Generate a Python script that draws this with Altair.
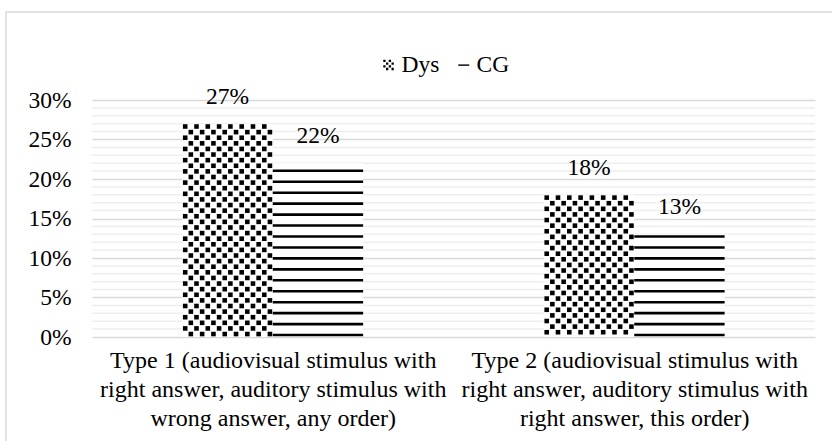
import json
import altair as alt
import pandas as pd

# ---- data ----
groups = [
    "Type 1 (audiovisual stimulus with|right answer, auditory stimulus with|wrong answer, any order)",
    "Type 2 (audiovisual stimulus with|right answer, auditory stimulus with|right answer, this order)",
]
series = ["Dys", "CG"]
dys_values = [0.27, 0.18]
cg_values = [0.22, 0.13]
y_ticks = [0, 0.05, 0.10, 0.15, 0.20, 0.25, 0.30]

rows = []
for gi, g in enumerate(groups):
    rows.append({"gi": gi, "group": g, "series": "Dys", "si": 0, "value": dys_values[gi]})
    rows.append({"gi": gi, "group": g, "series": "CG", "si": 1, "value": cg_values[gi]})
df = pd.DataFrame(rows)

FONT = "Liberation Serif"
FS = 23.5
FSX = 24

base = alt.Chart(df).transform_calculate(
    x0="datum.gi + 0.25 + datum.si * 0.25",
    x1="datum.gi + 0.5 + datum.si * 0.25",
    xc="datum.gi + 0.375 + datum.si * 0.25",
)

label_expr = "split(" + json.dumps(groups) + "[floor(datum.value)], '|')"

xscale = alt.Scale(domain=[0, len(groups)], nice=False, zero=False)
yscale = alt.Scale(domain=[0, 0.30], nice=False)

x_axis = alt.Axis(
    values=[0.5 + i for i in range(len(groups))],
    labelExpr=label_expr,
    title=None, ticks=False, domain=False, grid=False,
    labelFont=FONT, labelFontSize=FSX, labelColor="#000000",
    labelPadding=11, labelLineHeight=29, labelAlign="center", labelLimit=0,
)
y_axis = alt.Axis(
    values=y_ticks, format=".0%", title=None, ticks=False, domain=False,
    labelFont=FONT, labelFontSize=FS, labelColor="#000000", labelPadding=21,
    grid=True, gridColor="#d9d9d9", gridWidth=1.5,
)


def X(field):
    return alt.X(field, scale=xscale, axis=x_axis)


def Y(field):
    return alt.Y(field, scale=yscale, axis=y_axis)


# minor gridlines every 1%
minor = alt.Chart(alt.sequence(1, 30, 1, as_="k")).transform_filter(
    "datum.k % 5 != 0"
).transform_calculate(g="datum.k / 100").mark_rule(
    color="#eeeeee", strokeWidth=1.5
).encode(y=Y("g:Q"))

# white bar bodies
bars = base.mark_rect(fill="white").encode(
    x=X("x0:Q"),
    x2="x1:Q",
    y=Y("value:Q"),
    y2=alt.datum(0),
)

# dotted texture for Dys
NC = 16
RP = 0.0071
dots = base.transform_filter("datum.series == 'Dys'").transform_calculate(
    cs=f"sequence(0, {NC})",
    rs=f"sequence(0, ceil(datum.value / {RP}))",
).transform_flatten(["cs"], as_=["c"]).transform_flatten(["rs"], as_=["r"]).transform_filter(
    "(datum.c + datum.r) % 2 == 0"
).transform_calculate(
    px=f"datum.x0 + (datum.c + 0.5) * {0.25 / NC}",
    py=f"datum.value - (datum.r + 0.5) * {RP}",
).transform_filter("datum.py > 0.0028").mark_square(
    size=21, filled=True, color="black", opacity=1
).encode(x=X("px:Q"), y=Y("py:Q"))

# horizontal stripes for CG
stripes = base.transform_filter("datum.series == 'CG'").transform_calculate(
    lvs="sequence(0.0025, datum.value, 0.01386)"
).transform_flatten(["lvs"], as_=["lv"]).mark_rule(
    color="black", strokeWidth=2.6
).encode(x=X("x0:Q"), x2="x1:Q", y=Y("lv:Q"))

# value labels
labels = base.mark_text(
    font=FONT, fontSize=FS, color="#000000", dy=-27, baseline="middle"
).encode(
    x=X("xc:Q"),
    y=Y("value:Q"),
    text=alt.Text("value:Q", format=".0%"),
)

# legend icons
sq = []
for cc in range(4):
    for rr in range(4):
        if (cc + rr) % 2 == 0:
            x = -1 + cc * 0.5
            y = -1 + rr * 0.5
            sq.append(f"M{x},{y}h0.42v0.42h-0.42Z")
dys_icon = "".join(sq)
cg_icon = "M-1,-0.13H1V0.13H-1Z"

legend_pts = base.mark_point(filled=True, color="black", clip=True, opacity=1).encode(
    x=X("xc:Q"),
    y=alt.Y(datum=-1, scale=yscale, axis=y_axis),
    shape=alt.Shape(
        "series:N",
        scale=alt.Scale(domain=series, range=[dys_icon, cg_icon]),
        legend=alt.Legend(
            orient="none", legendX=285, legendY=-47, direction="horizontal",
            title=None, labelFont=FONT, labelFontSize=FS, labelColor="#000000",
            symbolSize=120, symbolStrokeWidth=0, columnPadding=12, labelOffset=1,
            symbolFillColor="black",
        ),
    ),
)

frame = alt.Chart(pd.DataFrame({"a": [0]})).mark_rect(
    fill="transparent", stroke="#d9d9d9", strokeWidth=1.5, clip=False
).encode(
    x=alt.value(-86), x2=alt.value(900), y=alt.value(-88), y2=alt.value(600)
)

chart = alt.layer(minor, bars, dots, stripes, labels, legend_pts, frame).properties(
    width=723, height=237,
    padding={"left": 92, "top": 100, "right": 17, "bottom": 104},
    autosize=alt.AutoSizeParams(type="none"),
    background="white",
).configure(font=FONT).configure_view(stroke=None).configure_text(
    font=FONT
).configure_legend(labelFont=FONT)

chart.save("out.html", embed_options={"renderer": "svg", "actions": False})
